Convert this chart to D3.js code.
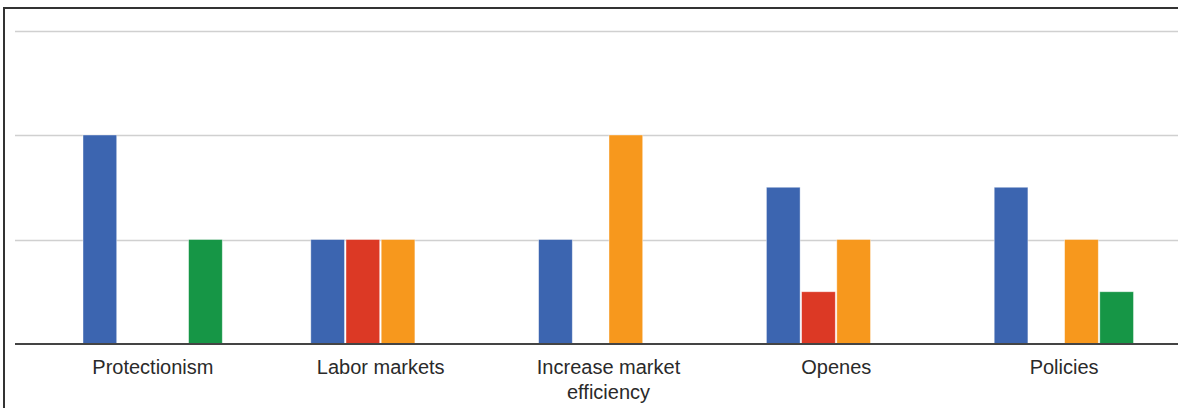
<!DOCTYPE html>
<html>
<head>
<meta charset="utf-8">
<script src="https://cdn.jsdelivr.net/npm/d3@7"></script>
<style>
  body { margin: 0; background: #fff; }
  text { font-family: "Liberation Sans", Arial, sans-serif; }
</style>
</head>
<body>
<div id="chart"></div>
<script>
// chart data
var categories = ["Protectionism", "Labor markets", "Increase market efficiency", "Openes", "Policies"];
var seriesNames = ["s1", "s2", "s3", "s4"];
var s1 = [4, 2, 2, 3, 3];
var s2 = [0, 2, 0, 1, 0];
var s3 = [0, 2, 4, 2, 2];
var s4 = [2, 0, 0, 0, 1];
var yTicks = [0, 2, 4, 6];
var colors = ["#3c65b0", "#dc3925", "#f7981d", "#169646"];

var svgWidth = 1178;
var svgHeight = 408;

var svg = d3.select("#chart")
  .append("svg")
  .attr("width", svgWidth)
  .attr("height", svgHeight);

// outer frame (only top and left edges visible)
svg.append("path")
  .attr("d", "M4,408 V8 H1178")
  .attr("fill", "none")
  .attr("stroke", "#333")
  .attr("stroke-width", 2);

var rows = categories.map(function(c, i) {
  return { cat: c, vals: [s1[i], s2[i], s3[i], s4[i]] };
});

var x0 = d3.scaleBand()
  .domain(categories)
  .range([39, 1178])
  .paddingInner(0.382)
  .paddingOuter(0.191);

var x1 = d3.scaleBand()
  .domain(seriesNames)
  .range([0, x0.bandwidth()]);

var y = d3.scaleLinear()
  .domain([0, 6])
  .range([344, 30.5]);

// gridlines
svg.append("g")
  .selectAll("line")
  .data(yTicks.filter(d => d > 0))
  .enter()
  .append("line")
  .attr("x1", 15)
  .attr("x2", 1178)
  .attr("y1", d => Math.round(y(d)) + 0.5)
  .attr("y2", d => Math.round(y(d)) + 0.5)
  .attr("stroke", "#d0d0d0")
  .attr("stroke-width", 1.5);

// bars
var groups = svg.append("g")
  .selectAll("g")
  .data(rows)
  .enter()
  .append("g")
  .attr("transform", d => `translate(${x0(d.cat)},0)`);

groups.selectAll("rect")
  .data(d => d.vals.map((v, i) => ({ key: seriesNames[i], v: v, i: i })))
  .enter()
  .filter(d => d.v > 0)
  .append("rect")
  .attr("x", d => x1(d.key) + 0.5)
  .attr("width", x1.bandwidth() - 1.5)
  .attr("y", d => y(d.v))
  .attr("height", d => y(0) - y(d.v))
  .attr("fill", d => colors[d.i])
  .attr("stroke", "#fff")
  .attr("stroke-opacity", 0.5)
  .attr("stroke-width", 0.8);

// baseline
svg.append("line")
  .attr("x1", 15)
  .attr("x2", 1178)
  .attr("y1", y(0))
  .attr("y2", y(0))
  .attr("stroke", "#444")
  .attr("stroke-width", 2);

// category labels, wrapped like the original
var xAxis = d3.axisBottom(x0).tickSize(0).tickPadding(0);
var axisG = svg.append("g")
  .attr("transform", `translate(0, ${y(0)})`)
  .call(xAxis);
axisG.select(".domain").remove();
axisG.selectAll("text")
  .attr("fill", "#2a2a2a")
  .attr("font-size", 20)
  .attr("dy", null)
  .attr("y", 0)
  .each(function(d) {
    var t = d3.select(this);
    var lines = d === "Increase market efficiency" ? ["Increase market", "efficiency"] : [d];
    t.text(null);
    lines.forEach(function(l, i) {
      t.append("tspan")
        .attr("x", 0)
        .attr("y", 29.5 + i * 25)
        .text(l);
    });
  });
</script>
</body>
</html>
